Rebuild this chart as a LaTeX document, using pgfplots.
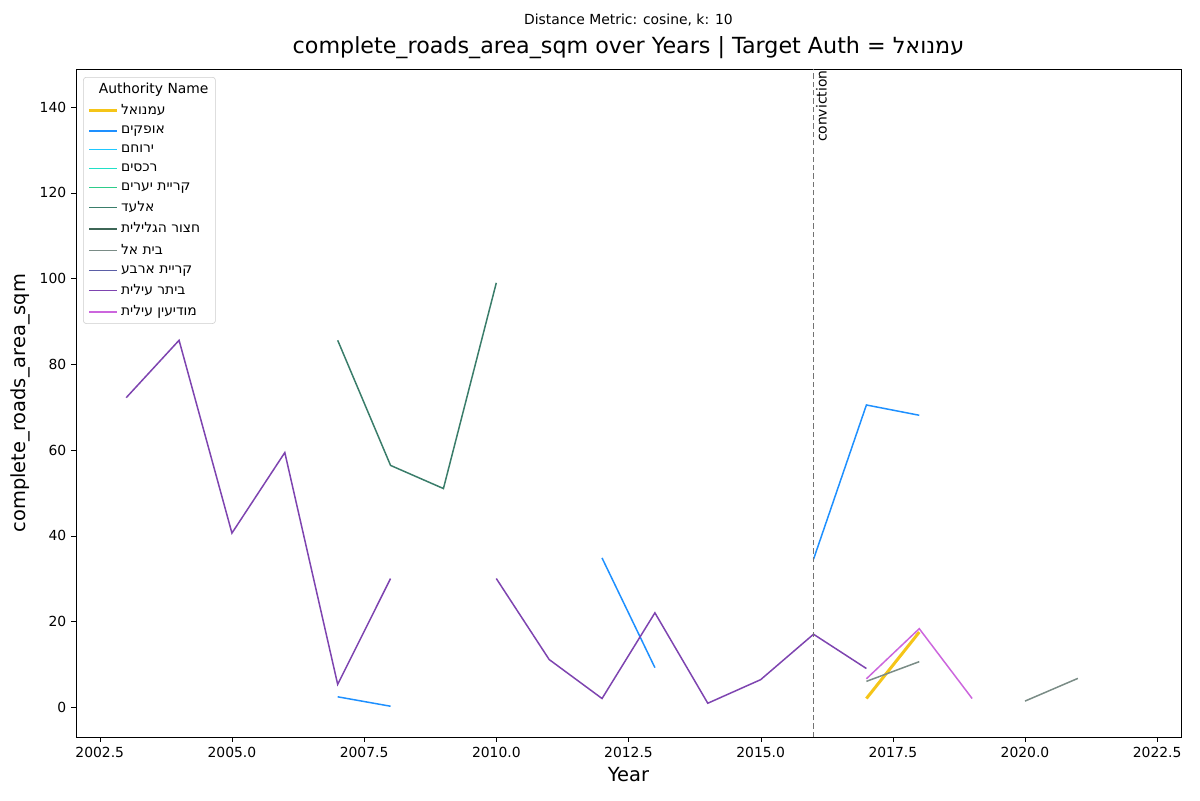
\documentclass[border=0pt]{standalone}
\usepackage{fontspec}
\setmainfont{DejaVu Sans}
\TeXXeTstate=1
\usepackage{pgfplots}
\pgfplotsset{compat=1.18}
\newcommand{\R}[1]{\beginR #1\endR}
\definecolor{cY}{HTML}{F5C518}
\definecolor{cB}{HTML}{1E90FF}
\definecolor{cLB}{HTML}{1EC8FF}
\definecolor{cT}{HTML}{20E0C8}
\definecolor{cG}{HTML}{2ECC8A}
\definecolor{cA}{HTML}{3A7D6A}
\definecolor{cH}{HTML}{3D6656}
\definecolor{cGr}{HTML}{7A8C86}
\definecolor{cK}{HTML}{5B5EA6}
\definecolor{cP}{HTML}{7E44B0}
\definecolor{cO}{HTML}{CC66DD}
\begin{document}
\begin{tikzpicture}
\begin{axis}[
  scale only axis, width=795.6pt, height=481pt,
  xmin=2002.05, xmax=2022.95, ymin=-7.0, ymax=148.9,
  xtick={2002.5,2005,...,2022.5}, ytick={0,20,...,140},
  xtick pos=bottom, ytick pos=left,
  /pgf/number format/assume math mode=true,
  xticklabel style={/pgf/number format/.cd,fixed,precision=1,fixed zerofill,1000 sep={}},
  yticklabel style={/pgf/number format/.cd,fixed,1000 sep={}},
  tick label style={font=\fontsize{10}{12}\selectfont},
  tick align=outside, tick style={black}, major tick length=3.5pt,
  xlabel={Year}, ylabel={complete\_roads\_area\_sqm},
  label style={font=\fontsize{14}{16}\selectfont},
  title={complete\_roads\_area\_sqm over Years | Target Auth = \R{עמנואל}},
  title style={font=\fontsize{16}{19}\selectfont, yshift=-2pt},
  unbounded coords=jump, clip=false,
  legend cell align=left,
  legend image code/.code={\draw[#1] (0cm,0cm) -- (0.7cm,0cm);},
  legend style={at={(0.0065,0.988)}, anchor=north west, font=\fontsize{10}{12}\selectfont, draw=black!20, rounded corners=2pt, row sep=2.6pt},
  every axis plot/.append style={line width=1.5pt*0.72},
]
\addlegendimage{empty legend}\addlegendentry{\hspace{-1.6em}Authority Name}
\addplot[cY, line width=3pt*0.72] coordinates {(2017,2.0) (2018,17.5)};
\addlegendentry{\R{עמנואל}}
\addplot[cB] coordinates {(2007,2.4) (2008,0.2) (2009,nan) (2012,34.8) (2013,9.2) (2014,nan) (2016,34.5) (2017,70.5) (2018,68.1)};
\addlegendentry{\R{אופקים}}
\addlegendimage{cLB, line width=1.08pt}\addlegendentry{\R{ירוחם}}
\addlegendimage{cT, line width=1.08pt}\addlegendentry{\R{רכסים}}
\addlegendimage{cG, line width=1.08pt}\addlegendentry{\R{קריית יערים}}
\addplot[cA] coordinates {(2007,85.6) (2008,56.4) (2009,51.0) (2010,99.0)};
\addlegendentry{\R{אלעד}}
\addlegendimage{cH, line width=1.08pt}\addlegendentry{\R{חצור הגלילית}}
\addplot[cGr] coordinates {(2017,6.0) (2018,10.6) (2019,nan) (2020,1.4) (2021,6.7)};
\addlegendentry{\R{בית אל}}
\addlegendimage{cK, line width=1.08pt}\addlegendentry{\R{קריית ארבע}}
\addplot[cP] coordinates {(2003,72.2) (2004,85.6) (2005,40.6) (2006,59.4) (2007,5.3) (2008,30.0) (2009,nan) (2010,30.0) (2011,11.1) (2012,2.0) (2013,22.0) (2014,0.9) (2015,6.4) (2016,17.0) (2017,9.0)};
\addlegendentry{\R{ביתר עילית}}
\addplot[cO] coordinates {(2017,6.6) (2018,18.3) (2019,2.0)};
\addlegendentry{\R{מודיעין עילית}}
\addplot[black!55, dash pattern=on 4pt off 2pt, line width=1.1pt, forget plot] coordinates {(2016,-7.0) (2016,148.9)};
\node[rotate=90, anchor=east, font=\fontsize{10}{12}\selectfont, inner sep=1pt] at (axis cs:2016.15,148.9) {conviction};
\end{axis}
\path (current axis.south west) ++(-54.7pt,-45.4pt);
\path (current axis.north east) ++(13.7pt,49.7pt);
\node[font=\fontsize{10}{12}\selectfont] at ([yshift=35.3pt]current axis.north) {Distance Metric: cosine, k: 10};
\end{tikzpicture}
\end{document}
